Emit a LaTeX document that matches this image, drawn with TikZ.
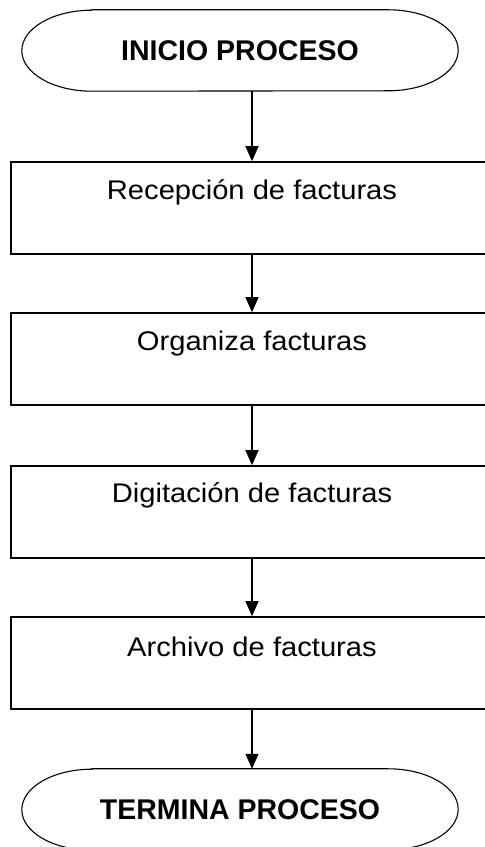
\documentclass[tikz,border=0pt]{standalone}
\usepackage{fontspec}
\setmainfont{Liberation Sans}
\newfontfamily\boxfont[FakeStretch=1.08]{Liberation Sans}
\usetikzlibrary{arrows.meta}
\tikzset{
  stepbox/.style={draw=black, line width=1.6pt, minimum width=482pt, minimum height=92pt, inner sep=0pt},
  termbox/.style={minimum width=436pt, minimum height=81pt, inner sep=0pt,
    font=\fontsize{28.5}{34}\selectfont\bfseries},
  termline/.style={draw=black, line width=1.1pt},
  boxtext/.style={anchor=base, font=\boxfont\fontsize{27}{32}\selectfont},
  arr/.style={draw=black, line width=1.2pt, -{Triangle[width=13pt,length=15pt]}}
}
\begin{document}
\begin{tikzpicture}[x=1pt,y=1pt]
\useasboundingbox (0,0) rectangle (485,847);
\clip (0,0) rectangle (485,847);
\fill[white] (0,0) rectangle (485,847);
% terminals
\node[termbox] (start) at (240,796.5) {INICIO PROCESO};
\node[termbox] (stop) at (240,37.5) {TERMINA PROCESO};
\foreach \t in {start,stop}{
  \draw[termline] ([xshift=70pt]\t.north west) -- ([xshift=-70pt]\t.north east)
    arc[start angle=90, end angle=-90, x radius=70pt, y radius=40.5pt]
    -- ([xshift=70pt]\t.south west)
    arc[start angle=270, end angle=90, x radius=70pt, y radius=40.5pt] -- cycle;
}
% process boxes
\node[stepbox] (r1) at (252,639) {};
\node[stepbox] (r2) at (252,488) {};
\node[stepbox] (r3) at (252,335) {};
\node[stepbox] (r4) at (252,184) {};
\node[boxtext] (t1) at ([yshift=-38pt]r1.north) {Recepción de facturas};
\node[boxtext] (t2) at ([yshift=-38.5pt]r2.north) {Organiza facturas};
\node[boxtext] (t3) at ([yshift=-37.5pt]r3.north) {Digitación de facturas};
\node[boxtext] (t4) at ([yshift=-40.5pt]r4.north) {Archivo de facturas};
% connectors
\draw[arr] (start.south -| r1.north) -- (r1.north);
\draw[arr] (r1.south) -- (r2.north);
\draw[arr] (r2.south) -- (r3.north);
\draw[arr] (r3.south) -- (r4.north);
\draw[arr] (r4.south) -- (stop.north -| r4.south);
\end{tikzpicture}
\end{document}
